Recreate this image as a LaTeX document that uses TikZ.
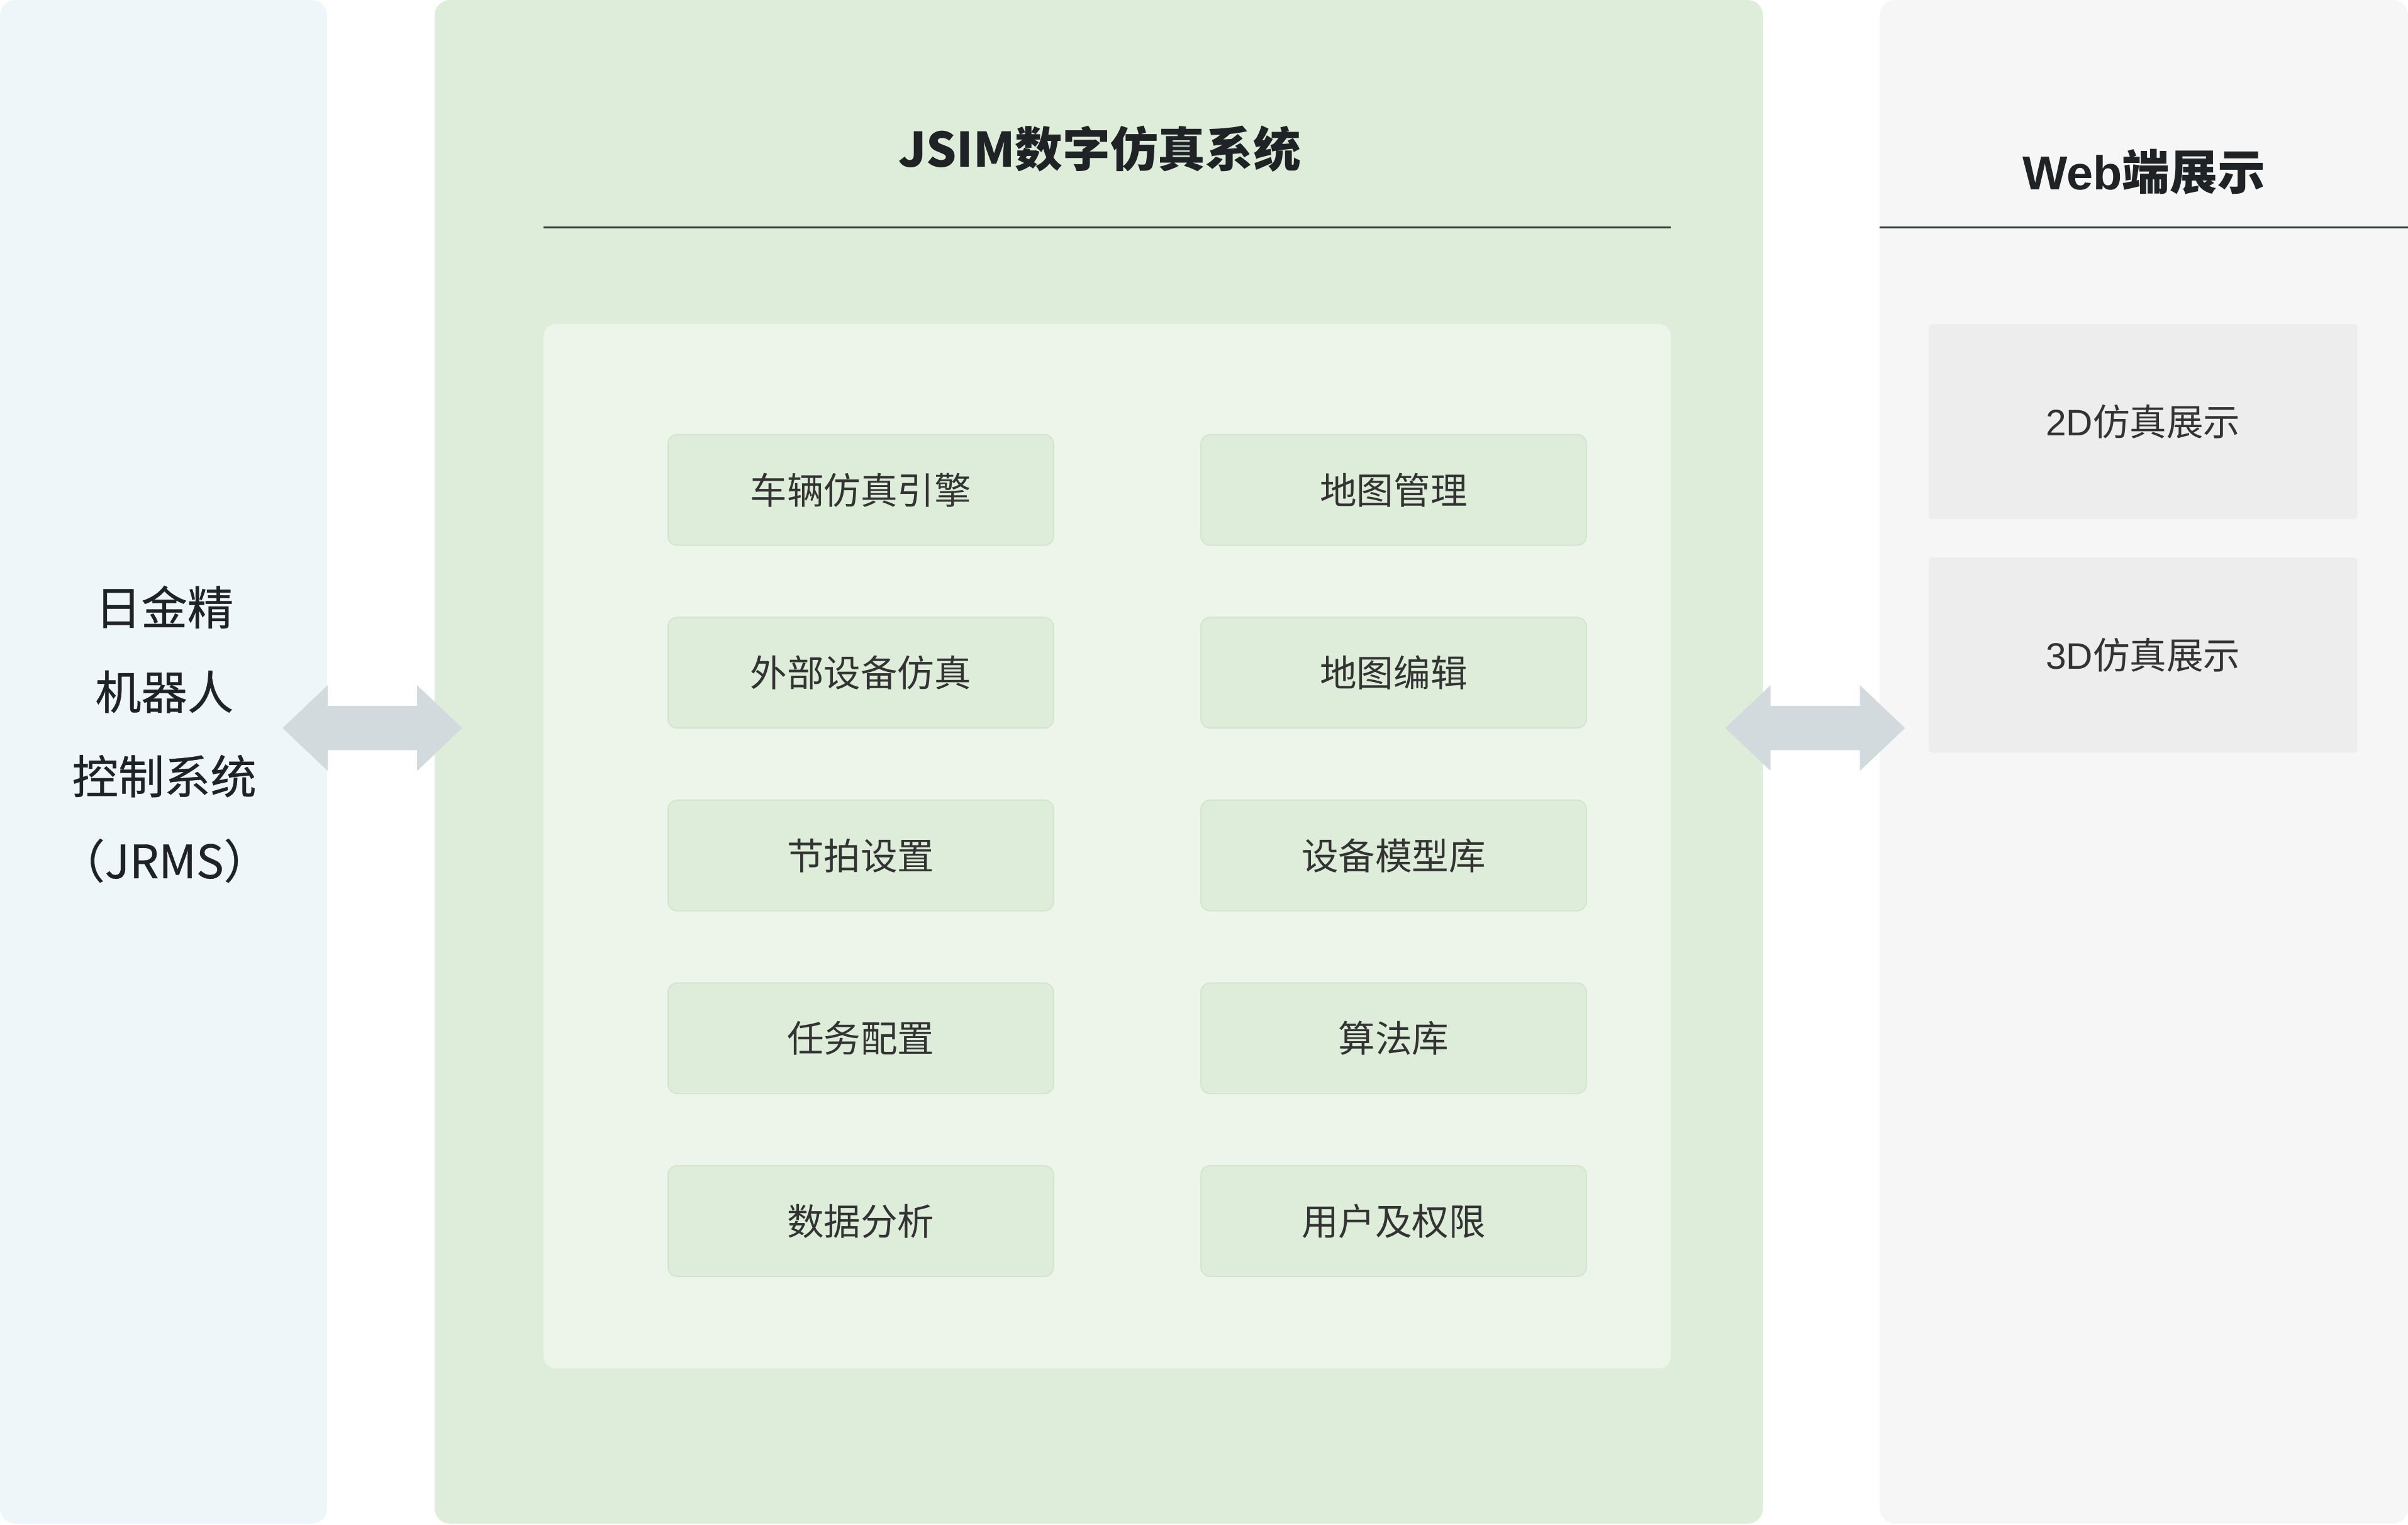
\documentclass[tikz,border=0pt]{standalone}
\usepackage{fontspec}
\setmainfont{Noto Sans CJK SC}
\newfontfamily\latinfont{Liberation Sans}
\newfontfamily\midcjk[FakeBold=0.5]{Noto Sans CJK SC}
\usepackage{xcolor}
\usepackage{tikz}
\usetikzlibrary{shapes.arrows}

\definecolor{leftbg}{HTML}{EEF6FA}
\definecolor{midbg}{HTML}{DEEDD9}
\definecolor{innerbg}{HTML}{EDF5EB}
\definecolor{itemedge}{HTML}{D4E4CF}
\definecolor{rightbg}{HTML}{F6F6F6}
\definecolor{graybox}{HTML}{EDEDED}
\definecolor{arrowgray}{HTML}{D3DADE}
\definecolor{rulecol}{HTML}{2E3D38}
\definecolor{titletxt}{HTML}{1F2326}
\definecolor{itemtxt}{HTML}{333333}

\begin{document}
\begin{tikzpicture}[x=0.5pt,y=-0.5pt,
    module/.style={rectangle, rounded corners=3pt, fill=midbg, draw=itemedge, line width=0.4pt,
      minimum width=125.5pt, minimum height=36pt, inner sep=0pt,
      font=\fontsize{12}{14}\selectfont, text=itemtxt},
    webbox/.style={rectangle, rounded corners=1pt, fill=graybox,
      minimum width=139.5pt, minimum height=63.5pt, inner sep=0pt,
      font=\fontsize{12}{14}\selectfont, text=itemtxt},
    heading/.style={font=\bfseries\fontsize{15.5}{18}\selectfont, text=titletxt},
    fatlink/.style={double arrow, fill=arrowgray, inner xsep=0pt, inner ysep=7pt,
      minimum width=27.5pt, minimum height=58.5pt,
      double arrow head extend=6.75pt, double arrow tip angle=87}]
  \useasboundingbox (0,0) rectangle (1568,992.5);

  \fill[leftbg, rounded corners=5pt] (0,0) rectangle (213,992);
  \fill[midbg, rounded corners=5pt] (283,0) rectangle (1148,992);
  \fill[rightbg, rounded corners=5pt] (1224,0) rectangle (1568,992);
  \fill[innerbg, rounded corners=4pt] (354,211) rectangle (1088,891);

  \node [align=center, font=\midcjk\fontsize{15}{27.5}\selectfont, text=titletxt] (jrms) at (107,478)
    {日金精\\机器人\\控制系统\\（JRMS）};

  \node [heading] (jsim) at (716,97) {JSIM数字仿真系统};
  \draw [rulecol, line width=0.5pt] (354,148) -- (1088,148);

  \node [module] (engine) at (560.5,319) {车辆仿真引擎};
  \node [module] (extdev) at (560.5,438) {外部设备仿真};
  \node [module] (beat)   at (560.5,557) {节拍设置};
  \node [module] (task)   at (560.5,676) {任务配置};
  \node [module] (data)   at (560.5,795) {数据分析};
  \node [module] (mapmgr) at (907.5,319) {地图管理};
  \node [module] (mapedit) at (907.5,438) {地图编辑};
  \node [module] (devlib) at (907.5,557) {设备模型库};
  \node [module] (algo)   at (907.5,676) {算法库};
  \node [module] (user)   at (907.5,795) {用户及权限};

  \node [heading] (web) at (1396,112) {{\latinfont Web}端展示};
  \draw [rulecol, line width=0.5pt] (1224,148) -- (1568,148);

  \node [webbox] (view2d) at (1395.5,274.5) {{\latinfont 2D}仿真展示};
  \node [webbox] (view3d) at (1395.5,426.5) {{\latinfont 3D}仿真展示};

  \node [fatlink] (linkl) at (242.5,474) {};
  \node [fatlink] (linkr) at (1182,474) {};
\end{tikzpicture}
\end{document}
